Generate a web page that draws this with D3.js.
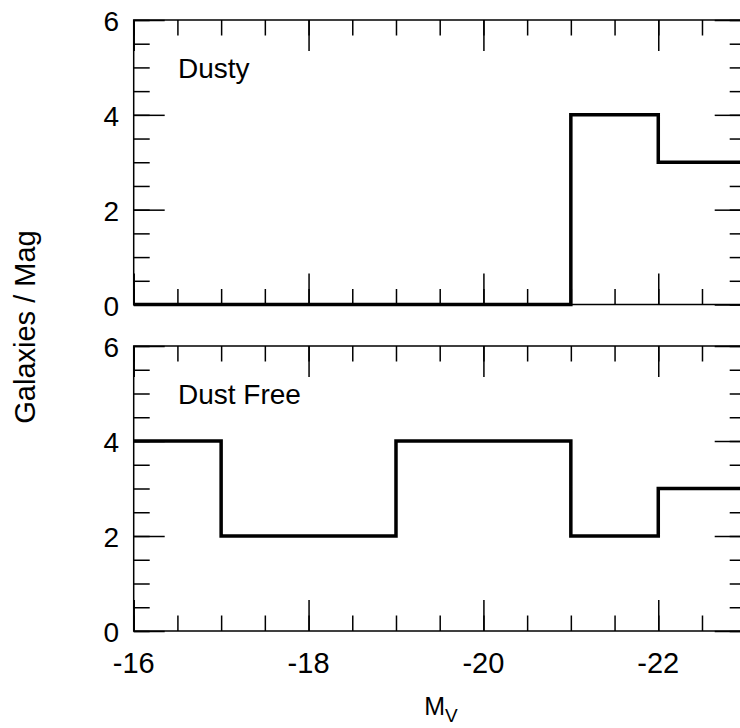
<!DOCTYPE html>
<html>
<head>
<meta charset="utf-8">
<script src="https://cdn.jsdelivr.net/npm/d3@7"></script>
<style>
  html, body { margin: 0; padding: 0; background: #fff; }
  svg { display: block; }
  text { font-family: "Liberation Sans", Arial, Helvetica, sans-serif; fill: #000; }
</style>
</head>
<body>
<svg id="chart" width="740" height="728"></svg>
<script>
// ---- data ----
const binEdges = [-16, -17, -18, -19, -20, -21, -22, -23];
const dustyCounts = [0, 0, 0, 0, 0, 4, 3];
const dustFreeCounts = [4, 2, 2, 4, 4, 2, 3];
const xMajorTicks = [-16, -18, -20, -22];
const xTickLabels = ["-16", "-18", "-20", "-22"];
const xMinorTicks = d3.range(-16, -23.01, -0.5);
const yMajorTicks = [0, 2, 4, 6];
const yTickLabels = ["0", "2", "4", "6"];
const yMinorTicks = d3.range(0, 6.01, 0.5);
const panelNames = ["Dusty", "Dust Free"];

// ---- layout ----
const svg = d3.select("#chart");
const x = d3.scaleLinear().domain([-16, -23]).range([133.7, 745.7]);
const panels = [
  { name: panelNames[0], counts: dustyCounts, y: d3.scaleLinear().domain([0, 6]).range([304.5, 20]), xlabels: false },
  { name: panelNames[1], counts: dustFreeCounts, y: d3.scaleLinear().domain([0, 6]).range([631, 346]), xlabels: true }
];
const MAJ = 31, MIN = 15.5;

panels.forEach(p => {
  const g = svg.append("g");
  const y = p.y;
  const [y0, y1] = [y(0), y(6)];
  const [x0, x1] = [x(-16), x(-23)];

  // histogram step line
  const pts = p.counts.map((c, i) => [binEdges[i], c]);
  pts.push([binEdges[binEdges.length - 1], p.counts[p.counts.length - 1]]);
  const line = d3.line().x(d => x(d[0])).y(d => y(d[1])).curve(d3.curveStepAfter);
  g.append("path").attr("d", line(pts))
    .attr("fill", "none").attr("stroke", "#000").attr("stroke-width", 3.5)
    .attr("stroke-linejoin", "miter").attr("stroke-linecap", "butt");

  const tickStyle = sel => {
    sel.select(".domain").remove();
    sel.selectAll("line").attr("stroke", "#000").attr("stroke-width", 1.5);
    sel.selectAll("text").remove();
  };

  // bottom & top ticks (inward)
  [[d3.axisBottom, y0], [d3.axisTop, y1]].forEach(([ax, ypos]) => {
    g.append("g").attr("transform", `translate(0,${ypos})`)
      .call(ax(x).tickValues(xMinorTicks).tickSize(-MIN).tickSizeOuter(0)).call(tickStyle);
    g.append("g").attr("transform", `translate(0,${ypos})`)
      .call(ax(x).tickValues(xMajorTicks).tickSize(-MAJ).tickSizeOuter(0)).call(tickStyle);
  });
  // left & right ticks (inward)
  [[d3.axisLeft, x0], [d3.axisRight, x1]].forEach(([ax, xpos]) => {
    g.append("g").attr("transform", `translate(${xpos},0)`)
      .call(ax(y).tickValues(yMinorTicks).tickSize(-MIN - 0.5).tickSizeOuter(0)).call(tickStyle);
    g.append("g").attr("transform", `translate(${xpos},0)`)
      .call(ax(y).tickValues(yMajorTicks).tickSize(-MAJ).tickSizeOuter(0)).call(tickStyle);
  });

  // frame
  g.append("rect").attr("x", x0).attr("y", y1).attr("width", x1 - x0).attr("height", y0 - y1)
    .attr("fill", "none").attr("stroke", "#000").attr("stroke-width", 1.5);

  // y tick labels
  g.selectAll("text.ylab").data(yMajorTicks).enter().append("text")
    .attr("class", "ylab")
    .attr("x", 119).attr("y", d => y(d) + 11)
    .attr("text-anchor", "end").attr("font-size", 28)
    .text((d, i) => yTickLabels[i]);

  // x tick labels
  if (p.xlabels) {
    g.selectAll("text.xlab").data(xMajorTicks).enter().append("text")
      .attr("class", "xlab")
      .attr("x", d => x(d)).attr("y", y0 + 41.5)
      .attr("text-anchor", "middle").attr("font-size", 29)
      .text((d, i) => xTickLabels[i]);
  }

  // panel name
  g.append("text").attr("x", 178).attr("y", y1 + 57.5)
    .attr("font-size", 28).text(p.name);
});

// y axis title
svg.append("text")
  .attr("transform", "translate(35,327) rotate(-90)")
  .attr("text-anchor", "middle").attr("font-size", 29)
  .text("Galaxies / Mag");

// x axis title M_V
const xt = svg.append("text").attr("x", 441).attr("y", 715).attr("text-anchor", "middle").attr("font-size", 25);
xt.append("tspan").text("M");
xt.append("tspan").attr("font-size", 19).attr("dy", 7).text("V");
</script>
</body>
</html>
